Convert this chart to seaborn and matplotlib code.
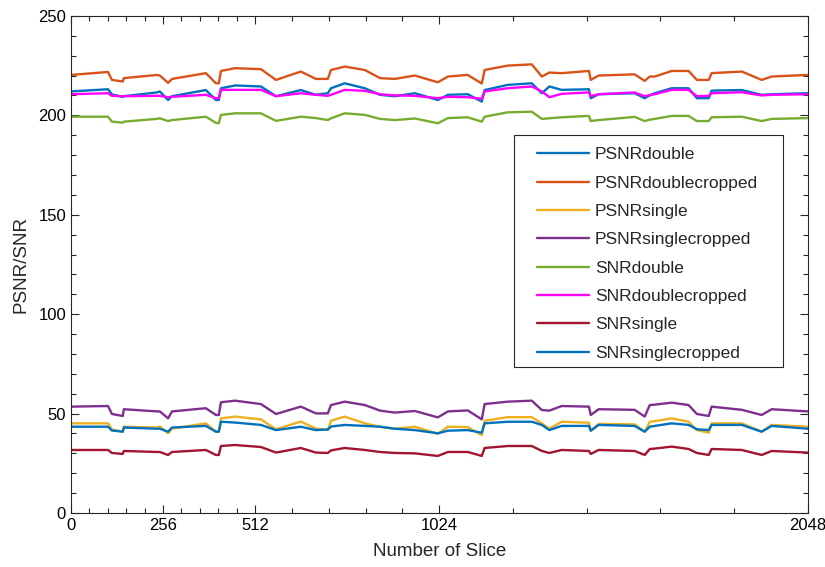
import numpy as np
import pandas as pd
import matplotlib
matplotlib.use("Agg")
import matplotlib.pyplot as plt
from matplotlib.patches import Rectangle
import seaborn as sns

slices = [0, 103, 114, 144, 147, 239, 247, 270, 281, 375, 403, 411, 417, 456, 528,
          570, 639, 681, 714, 723, 761, 817, 859, 900, 956, 1020, 1048, 1103, 1142,
          1150, 1214, 1281, 1309, 1330, 1364, 1440, 1445, 1467, 1567, 1595, 1609,
          1623, 1670, 1717, 1740, 1773, 1781, 1865, 1920, 1948, 2048]

psnr_double = [212, 213.1, 210.5, 209.2, 209.6, 211.5, 212, 207.7, 209.6, 212.7, 207.7,
               207.7, 213.6, 215, 214.5, 209.6, 212.7, 210.3, 211.1, 213.6, 216.1, 213.6,
               210.3, 209.6, 211.1, 207.7, 210.3, 210.6, 206.9, 212.7, 215.3, 216.1,
               211.1, 214.5, 212.8, 213.1, 208.6, 210.6, 211.1, 208.6, 210, 211.1,
               213.6, 213.6, 208.6, 208.6, 212.4, 212.7, 210.3, 210.6, 211.1]

psnr_double_cropped = [220.3, 221.8, 217.8, 217, 218.7, 220.3, 220, 216.3, 218.3, 221.2,
                       216.1, 216.1, 222.3, 223.7, 223.2, 217.8, 222, 218.3, 218.3, 222.8,
                       224.5, 222.8, 218.7, 218.3, 220, 216.6, 219.5, 220.3, 216, 222.8,
                       225, 225.6, 219.5, 221.5, 221.2, 222.3, 217.8, 220, 220.6, 217.3,
                       219.5, 219.5, 222.3, 222.3, 217.8, 217.8, 221.2, 222, 217.8, 219.5,
                       220.3]

psnr_single = [45.1, 45.1, 42, 40.9, 43.4, 43, 43.5, 40.1, 42.4, 45.1, 40.9, 40.9, 47.6,
               48.5, 47.1, 42.1, 46, 42.4, 41.8, 46.4, 48.5, 45.1, 43.4, 42.4, 43.4, 39.8,
               43.4, 43.2, 39.2, 46.4, 48.2, 48.2, 45.1, 42.4, 45.9, 45.4, 41.4, 44.8,
               44.6, 40.9, 45.9, 46.2, 47.6, 45.9, 41.7, 40.4, 45.1, 45.1, 40.9, 44.3, 43.4]

psnr_single_cropped = [53.5, 53.8, 49.8, 48.8, 52.2, 51.1, 51.1, 47.6, 51.1, 52.7, 49.3,
                       49.3, 55.7, 56.5, 54.8, 49.8, 53.5, 50.1, 50.1, 54.3, 56, 54.3, 51.5,
                       50.5, 51.3, 48.1, 51.1, 51.6, 47.1, 54.8, 56, 56.5, 51.8, 51.5, 53.8,
                       53.5, 49.3, 52.2, 51.9, 48.5, 54.3, 54.5, 55.5, 54.3, 49.8, 48.8,
                       53.5, 51.9, 49.3, 52.2, 51.1]

snr_double = [199.3, 199.3, 196.8, 196.3, 196.8, 198.2, 198.5, 197.1, 197.6, 199.3, 196.2,
              196, 200.2, 201, 201, 197.2, 199.3, 198.6, 197.6, 198.5, 201, 200.2, 198.2,
              197.6, 198.4, 196, 198.6, 199, 196.8, 199.3, 201.5, 201.8, 198.2, 198.5, 199,
              199.7, 197.1, 197.6, 199.2, 197.1, 197.8, 198.2, 199.7, 199.7, 197.1, 197.1,
              199, 199.3, 197.1, 198.2, 198.6]

snr_double_cropped = [210.6, 211.1, 209.8, 209.6, 209.6, 209.8, 209.8, 209.1, 209.3, 210.3,
                      208.6, 208.6, 212.8, 212.8, 212.8, 209.6, 211.1, 210.3, 209.8, 210.3,
                      212.8, 212.3, 210.6, 210, 209.8, 208.6, 209.3, 209.1, 208.3, 212,
                      213.6, 214.5, 212, 209.1, 210.8, 211.5, 209.6, 210.6, 211.5, 209.6,
                      210.2, 210.6, 212.8, 212.8, 209.6, 209.8, 211.1, 211.6, 210, 210.3,
                      210.6]

snr_single = [31.7, 31.7, 30.2, 29.7, 31.2, 30.7, 30.7, 29.2, 30.7, 31.7, 29.2, 29.2, 33.7,
              34.2, 33.2, 30.4, 32.7, 30.4, 30.2, 31.5, 32.7, 31.7, 30.7, 30.2, 30, 28.7,
              30.7, 30.7, 28.7, 32.7, 33.7, 33.7, 31.2, 30.2, 31.7, 31.2, 29.7, 31.7, 31.2,
              29.2, 32.2, 32.4, 33.4, 32.2, 30.2, 29.2, 32.2, 31.7, 29.2, 31.2, 30.4]

snr_single_cropped = [43.4, 43.4, 41.5, 40.9, 43, 42.4, 42.4, 40.9, 43, 43.8, 40.9, 40.9,
                      45.9, 45.5, 44.3, 41.7, 43.4, 41.7, 42, 43.5, 44.3, 43.8, 43.4, 42.4,
                      41.7, 40.1, 41.4, 41.7, 40.4, 45.1, 45.9, 45.9, 44.3, 41.7, 43.8, 43.8,
                      41.4, 44.3, 43.8, 40.9, 43.4, 43.8, 45.1, 44.3, 42.1, 41.7, 44.3, 44.3,
                      40.9, 43.8, 42.4]

series_names = ["PSNRdouble", "PSNRdoublecropped", "PSNRsingle", "PSNRsinglecropped",
                "SNRdouble", "SNRdoublecropped", "SNRsingle", "SNRsinglecropped"]
series_values = [psnr_double, psnr_double_cropped, psnr_single, psnr_single_cropped,
                 snr_double, snr_double_cropped, snr_single, snr_single_cropped]
colors = ["#0072BD", "#D95319", "#EDB120", "#7E2F8E", "#77AC30", "#FF00FF",
          "#A2142F", "#0072BD"]

x_ticks = [0, 256, 512, 1024, 2048]
y_ticks = [0, 50, 100, 150, 200, 250]

sns.set_style("ticks")
plt.rcParams["font.family"] = ["Liberation Sans", "DejaVu Sans"]

fig = plt.figure(figsize=(8.25, 5.67), dpi=100)
ax = fig.add_axes([0.086, 0.0952, 0.893, 0.8768])

for name, vals, col in zip(series_names, series_values, colors):
    df = pd.DataFrame({"slice": slices, "value": vals})
    sns.lineplot(data=df, x="slice", y="value", color=col, linewidth=1.7,
                 label=name, ax=ax, estimator=None, sort=False)

ax.set_xlim(0, 2048)
ax.set_ylim(0, 250)
ax.set_xticks(x_ticks)
ax.set_xticklabels([str(t) for t in x_ticks])
ax.set_yticks(y_ticks)
minor_x = list(np.arange(0, 512, 51.2)) + list(np.arange(512, 1024, 102.4)) + \
    list(np.arange(1024, 2048, 204.8))
ax.set_xticks(minor_x, minor=True)
ax.set_yticks(np.arange(0, 251, 10), minor=True)

axcol = "#262626"
for s in ax.spines.values():
    s.set_visible(True)
    s.set_color(axcol)
    s.set_linewidth(0.8)
ax.tick_params(which="both", direction="in", top=True, right=True, colors=axcol,
               labelsize=12, width=0.8)
ax.tick_params(which="major", length=6)
ax.tick_params(which="minor", length=3.5)
for lbl in ax.get_xticklabels() + ax.get_yticklabels():
    lbl.set_color("black")

ax.set_xlabel("Number of Slice", fontsize=13.5, color="#262626", labelpad=7)
ax.set_ylabel("PSNR/SNR", fontsize=13.5, color="#262626", labelpad=6)

# legend box frame (MATLAB-style padding)
frame = Rectangle((0.602, 0.294), 0.364, 0.467, transform=ax.transAxes,
                  facecolor="white", edgecolor="#262626", linewidth=0.8, zorder=4)
ax.add_patch(frame)
leg = ax.legend(loc="upper left", bbox_to_anchor=(0.632, 0.736), fontsize=12.5,
                frameon=False, handlelength=3.0, handletextpad=0.35,
                labelspacing=0.76, borderpad=0, borderaxespad=0)
leg.set_zorder(5)

fig.savefig("out.png", dpi=100)
